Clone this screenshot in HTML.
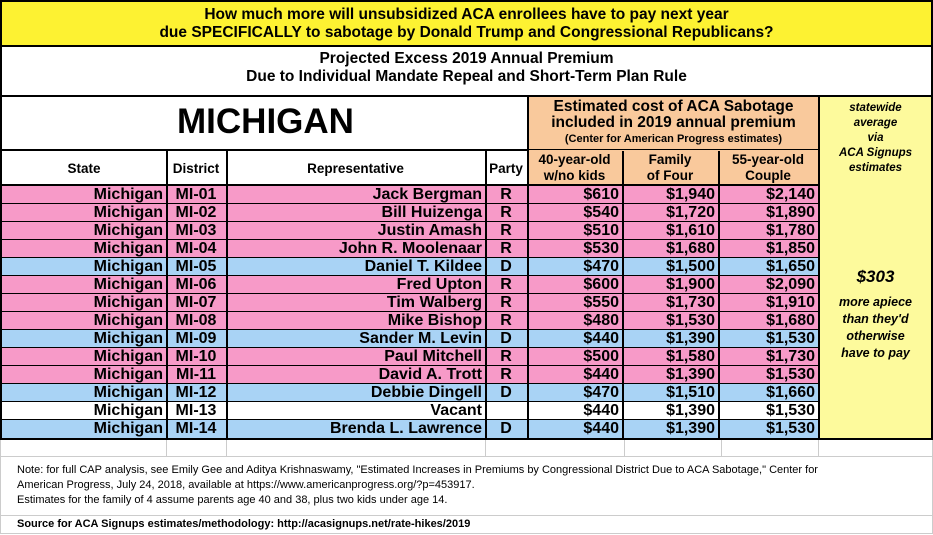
<!DOCTYPE html>
<html><head><meta charset="utf-8"><style>
*{margin:0;padding:0;box-sizing:border-box}
body{width:933px;height:535px;background:#fff;font-family:"Liberation Sans",Arial,sans-serif;position:relative;overflow:hidden}
.a{position:absolute}
.top{left:0;top:0;width:933px;height:47px;background:#fdf232;border:2px solid #000;text-align:center;font-weight:bold;font-size:15.5px;line-height:18px;padding-top:4px}
.sub{left:0;top:45px;width:933px;height:52px;border:2px solid #000;border-top:0;text-align:center;font-weight:bold;font-size:15.5px;line-height:18px;padding-top:5px}
.mi{left:0;top:95px;width:529px;height:57px;border-left:2px solid #000;font-weight:bold;font-size:35px;text-align:center;padding-top:7px}
.org{left:527px;top:97px;width:293px;height:89px;background:#f9c99c;border-left:2px solid #000;border-right:2px solid #000}
.yel{left:818px;top:97px;width:115px;height:343px;background:#fdfa9c;border-left:2px solid #000;border-right:2px solid #000;border-bottom:2px solid #000}
.row{left:0;width:820px;height:18px;border-bottom:1px solid #000;border-left:2px solid #000;font-weight:bold;font-size:16px;line-height:17px}
.c{position:absolute;top:0;height:100%;border-right:2px solid #000;text-align:right;padding-right:3px;white-space:nowrap}
.p{background:#f79ac8}.b{background:#a9d3f5}.w{background:#fff}
.hdr{font-weight:bold;font-size:13.5px;text-align:center}
</style></head><body>
<div class="a top">How much more will unsubsidized ACA enrollees have to pay next year<br>due SPECIFICALLY to sabotage by Donald Trump and Congressional Republicans?</div>
<div class="a sub">Projected Excess 2019 Annual Premium<br>Due to Individual Mandate Repeal and Short-Term Plan Rule</div>
<div class="a mi">MICHIGAN</div>
<div class="a org"></div>
<div class="a hdr" style="left:527px;top:99px;width:293px;font-size:15.5px;line-height:16px">Estimated cost of ACA Sabotage<br>included in 2019 annual premium</div>
<div class="a hdr" style="left:527px;top:133px;width:293px;font-size:11px">(Center for American Progress estimates)</div>
<div class="a yel"></div>
<div class="a" style="left:818px;top:101px;width:115px;text-align:center;font-weight:bold;font-style:italic;font-size:11.5px;line-height:15px">statewide<br>average<br>via<br>ACA Signups<br>estimates</div>
<div class="a" style="left:818px;top:267px;width:115px;text-align:center;font-weight:bold;font-style:italic;font-size:17px">$303</div>
<div class="a" style="left:818px;top:294px;width:115px;text-align:center;font-weight:bold;font-style:italic;font-size:12.5px;line-height:17px">more apiece<br>than they'd<br>otherwise<br>have to pay</div>
<div class="a" style="left:0;top:149px;width:529px;height:2px;background:#000"></div>
<div class="a" style="left:527px;top:149px;width:293px;height:1px;background:#000"></div>
<div class="a row w" style="top:151px;height:35px;border-bottom:2px solid #000;background:none">
<span class="c hdr" style="left:0;width:166px;padding:9px 0 0">State</span>
<span class="c hdr" style="left:164px;width:62px;padding:9px 0 0">District</span>
<span class="c hdr" style="left:224px;width:261px;padding:9px 0 0">Representative</span>
<span class="c hdr" style="left:483px;width:44px;padding:9px 0 0">Party</span>
<span class="c hdr" style="left:525px;width:97px;padding:1px 0 0;line-height:16px">40-year-old<br>w/no kids</span>
<span class="c hdr" style="left:620px;width:98px;padding:1px 0 0;line-height:16px">Family<br>of Four</span>
<span class="c hdr" style="left:716px;width:102px;padding:1px 0 0;line-height:16px">55-year-old<br>Couple</span>
</div>
<div class="a row p" style="top:186px"><span class="c" style="left:0;width:166px">Michigan</span><span class="c" style="left:164px;width:62px;text-align:center;padding:0">MI-01</span><span class="c" style="left:224px;width:261px">Jack Bergman</span><span class="c" style="left:483px;width:44px;text-align:center;padding:0">R</span><span class="c" style="left:525px;width:97px">$610</span><span class="c" style="left:620px;width:98px">$1,940</span><span class="c" style="left:716px;width:102px">$2,140</span></div>
<div class="a row p" style="top:204px"><span class="c" style="left:0;width:166px">Michigan</span><span class="c" style="left:164px;width:62px;text-align:center;padding:0">MI-02</span><span class="c" style="left:224px;width:261px">Bill Huizenga</span><span class="c" style="left:483px;width:44px;text-align:center;padding:0">R</span><span class="c" style="left:525px;width:97px">$540</span><span class="c" style="left:620px;width:98px">$1,720</span><span class="c" style="left:716px;width:102px">$1,890</span></div>
<div class="a row p" style="top:222px"><span class="c" style="left:0;width:166px">Michigan</span><span class="c" style="left:164px;width:62px;text-align:center;padding:0">MI-03</span><span class="c" style="left:224px;width:261px">Justin Amash</span><span class="c" style="left:483px;width:44px;text-align:center;padding:0">R</span><span class="c" style="left:525px;width:97px">$510</span><span class="c" style="left:620px;width:98px">$1,610</span><span class="c" style="left:716px;width:102px">$1,780</span></div>
<div class="a row p" style="top:240px"><span class="c" style="left:0;width:166px">Michigan</span><span class="c" style="left:164px;width:62px;text-align:center;padding:0">MI-04</span><span class="c" style="left:224px;width:261px">John R. Moolenaar</span><span class="c" style="left:483px;width:44px;text-align:center;padding:0">R</span><span class="c" style="left:525px;width:97px">$530</span><span class="c" style="left:620px;width:98px">$1,680</span><span class="c" style="left:716px;width:102px">$1,850</span></div>
<div class="a row b" style="top:258px"><span class="c" style="left:0;width:166px">Michigan</span><span class="c" style="left:164px;width:62px;text-align:center;padding:0">MI-05</span><span class="c" style="left:224px;width:261px">Daniel T. Kildee</span><span class="c" style="left:483px;width:44px;text-align:center;padding:0">D</span><span class="c" style="left:525px;width:97px">$470</span><span class="c" style="left:620px;width:98px">$1,500</span><span class="c" style="left:716px;width:102px">$1,650</span></div>
<div class="a row p" style="top:276px"><span class="c" style="left:0;width:166px">Michigan</span><span class="c" style="left:164px;width:62px;text-align:center;padding:0">MI-06</span><span class="c" style="left:224px;width:261px">Fred Upton</span><span class="c" style="left:483px;width:44px;text-align:center;padding:0">R</span><span class="c" style="left:525px;width:97px">$600</span><span class="c" style="left:620px;width:98px">$1,900</span><span class="c" style="left:716px;width:102px">$2,090</span></div>
<div class="a row p" style="top:294px"><span class="c" style="left:0;width:166px">Michigan</span><span class="c" style="left:164px;width:62px;text-align:center;padding:0">MI-07</span><span class="c" style="left:224px;width:261px">Tim Walberg</span><span class="c" style="left:483px;width:44px;text-align:center;padding:0">R</span><span class="c" style="left:525px;width:97px">$550</span><span class="c" style="left:620px;width:98px">$1,730</span><span class="c" style="left:716px;width:102px">$1,910</span></div>
<div class="a row p" style="top:312px"><span class="c" style="left:0;width:166px">Michigan</span><span class="c" style="left:164px;width:62px;text-align:center;padding:0">MI-08</span><span class="c" style="left:224px;width:261px">Mike Bishop</span><span class="c" style="left:483px;width:44px;text-align:center;padding:0">R</span><span class="c" style="left:525px;width:97px">$480</span><span class="c" style="left:620px;width:98px">$1,530</span><span class="c" style="left:716px;width:102px">$1,680</span></div>
<div class="a row b" style="top:330px"><span class="c" style="left:0;width:166px">Michigan</span><span class="c" style="left:164px;width:62px;text-align:center;padding:0">MI-09</span><span class="c" style="left:224px;width:261px">Sander M. Levin</span><span class="c" style="left:483px;width:44px;text-align:center;padding:0">D</span><span class="c" style="left:525px;width:97px">$440</span><span class="c" style="left:620px;width:98px">$1,390</span><span class="c" style="left:716px;width:102px">$1,530</span></div>
<div class="a row p" style="top:348px"><span class="c" style="left:0;width:166px">Michigan</span><span class="c" style="left:164px;width:62px;text-align:center;padding:0">MI-10</span><span class="c" style="left:224px;width:261px">Paul Mitchell</span><span class="c" style="left:483px;width:44px;text-align:center;padding:0">R</span><span class="c" style="left:525px;width:97px">$500</span><span class="c" style="left:620px;width:98px">$1,580</span><span class="c" style="left:716px;width:102px">$1,730</span></div>
<div class="a row p" style="top:366px"><span class="c" style="left:0;width:166px">Michigan</span><span class="c" style="left:164px;width:62px;text-align:center;padding:0">MI-11</span><span class="c" style="left:224px;width:261px">David A. Trott</span><span class="c" style="left:483px;width:44px;text-align:center;padding:0">R</span><span class="c" style="left:525px;width:97px">$440</span><span class="c" style="left:620px;width:98px">$1,390</span><span class="c" style="left:716px;width:102px">$1,530</span></div>
<div class="a row b" style="top:384px"><span class="c" style="left:0;width:166px">Michigan</span><span class="c" style="left:164px;width:62px;text-align:center;padding:0">MI-12</span><span class="c" style="left:224px;width:261px">Debbie Dingell</span><span class="c" style="left:483px;width:44px;text-align:center;padding:0">D</span><span class="c" style="left:525px;width:97px">$470</span><span class="c" style="left:620px;width:98px">$1,510</span><span class="c" style="left:716px;width:102px">$1,660</span></div>
<div class="a row w" style="top:402px"><span class="c" style="left:0;width:166px">Michigan</span><span class="c" style="left:164px;width:62px;text-align:center;padding:0">MI-13</span><span class="c" style="left:224px;width:261px">Vacant</span><span class="c" style="left:483px;width:44px;text-align:center;padding:0"></span><span class="c" style="left:525px;width:97px">$440</span><span class="c" style="left:620px;width:98px">$1,390</span><span class="c" style="left:716px;width:102px">$1,530</span></div>
<div class="a row b" style="top:420px;height:20px;border-bottom:2px solid #000"><span class="c" style="left:0;width:166px">Michigan</span><span class="c" style="left:164px;width:62px;text-align:center;padding:0">MI-14</span><span class="c" style="left:224px;width:261px">Brenda L. Lawrence</span><span class="c" style="left:483px;width:44px;text-align:center;padding:0">D</span><span class="c" style="left:525px;width:97px">$440</span><span class="c" style="left:620px;width:98px">$1,390</span><span class="c" style="left:716px;width:102px">$1,530</span></div>
<div class="a" style="left:0;top:440px;width:933px;height:17px;border-bottom:1px solid #ccc;border-left:1px solid #ccc;border-right:1px solid #ccc"></div>
<div class="a" style="left:166px;top:440px;width:1px;height:17px;background:#ccc"></div>
<div class="a" style="left:226px;top:440px;width:1px;height:17px;background:#ccc"></div>
<div class="a" style="left:485px;top:440px;width:1px;height:17px;background:#ccc"></div>
<div class="a" style="left:624px;top:440px;width:1px;height:17px;background:#ccc"></div>
<div class="a" style="left:721px;top:440px;width:1px;height:17px;background:#ccc"></div>
<div class="a" style="left:818px;top:440px;width:1px;height:17px;background:#ccc"></div>
<div class="a" style="left:0;top:457px;width:933px;height:59px;border-bottom:1px solid #ccc;border-left:1px solid #ccc;border-right:1px solid #ccc;font-size:11px;line-height:15px;padding:6px 0 0 16px">Note: for full CAP analysis, see Emily Gee and Aditya Krishnaswamy, "Estimated Increases in Premiums by Congressional District Due to ACA Sabotage," Center for<br>American Progress, July 24, 2018, available at https://www.americanprogress.org/?p=453917.<br>Estimates for the family of 4 assume parents age 40 and 38, plus two kids under age 14.</div>
<div class="a" style="left:0;top:516px;width:933px;height:18px;border-bottom:1px solid #ccc;border-left:1px solid #ccc;border-right:1px solid #ccc;font-size:11px;font-weight:bold;line-height:17px;padding-left:16px">Source for ACA Signups estimates/methodology: http://acasignups.net/rate-hikes/2019</div>
</body></html>
